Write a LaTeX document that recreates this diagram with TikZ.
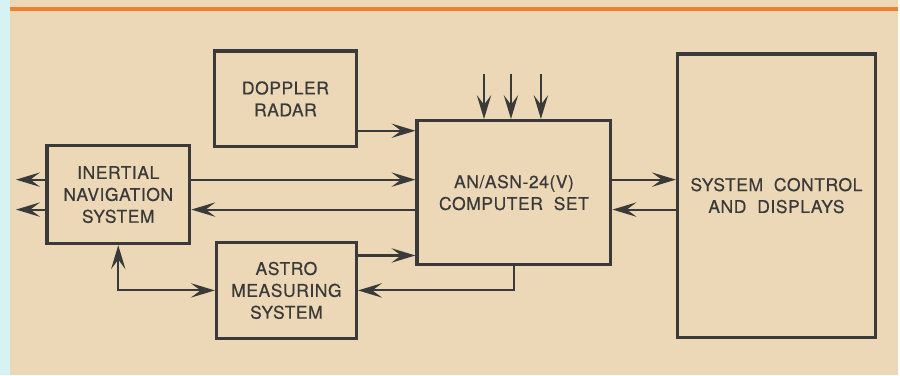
\documentclass[tikz,border=0pt]{standalone}
\usepackage{fontspec}
\setmainfont{TeX Gyre Heros}
\newfontfamily\rotulo{TeX Gyre Heros}[FakeBold=0.5, LetterSpace=3]
\usetikzlibrary{arrows.meta}
\definecolor{fondo}{RGB}{236,216,182}
\definecolor{franja}{RGB}{214,242,242}
\definecolor{naranja}{RGB}{238,128,50}
\definecolor{tinta}{RGB}{58,58,58}
\tikzset{
  >={Stealth[length=6mm, width=3.6mm, inset=2.4mm]},
  caja/.style={draw=tinta, line width=2.4pt, inner sep=0pt, align=center,
    text=tinta, font=\rotulo\fontsize{12.5pt}{15.6pt}\selectfont},
  flecha/.style={draw=tinta, line width=1.5pt},
}
\begin{document}
\begin{tikzpicture}[x=0.025cm, y=-0.025cm]
  \fill[fondo] (0,0) rectangle (900,376);
  \fill[franja] (0,0) rectangle (10,376);
  \draw[naranja, line width=2.6pt] (10,9) -- (900,9);

  \node[caja, minimum width=3.55cm, minimum height=2.4cm] (dop) at (286,99) {DOPPLER\\RADAR};
  \node[caja, minimum width=3.575cm, minimum height=2.45cm] (ins) at (118.5,195) {INERTIAL\\NAVIGATION\\SYSTEM};
  \node[caja, minimum width=3.5cm, minimum height=2.4cm] (astro) at (287,291) {ASTRO\\MEASURING\\SYSTEM};
  \node[caja, minimum width=4.85cm, minimum height=3.6cm] (comp) at (515,193) {AN/ASN-24(V)\\COMPUTER\ \ SET};
  \node[caja, minimum width=4.95cm, minimum height=7.1cm] (sis) at (778,196) {SYSTEM\ \ CONTROL\\AND\ \ DISPLAYS};

  \coordinate (f1) at (0,131);
  \coordinate (f2) at (0,180);
  \coordinate (f3) at (0,210);
  \coordinate (f4) at (0,256);
  \coordinate (izq) at (16,0);
  \coordinate (e1) at (485,74);
  \coordinate (e2) at (512,74);
  \coordinate (e3) at (542,74);

  \draw[flecha, ->] (dop.east |- f1) -- (comp.west |- f1);
  \draw[flecha, ->] (ins.east |- f2) -- (comp.west |- f2);
  \draw[flecha, <-] (ins.east |- f3) -- (comp.west |- f3);
  \draw[flecha, ->] (astro.east |- f4) -- (comp.west |- f4);
  \draw[flecha, ->] (comp.south) |- (astro.east);
  \draw[flecha, <->] (ins.south) |- (astro.west);
  \draw[flecha, ->] (ins.west |- f2) -- (izq |- f2);
  \draw[flecha, ->] (ins.west |- f3) -- (izq |- f3);
  \draw[flecha, ->] (comp.east |- f2) -- (sis.west |- f2);
  \draw[flecha, <-] (comp.east |- f3) -- (sis.west |- f3);
  \foreach \e in {e1,e2,e3}
    \draw[flecha, ->] (\e) -- (comp.north -| \e);
\end{tikzpicture}
\end{document}
